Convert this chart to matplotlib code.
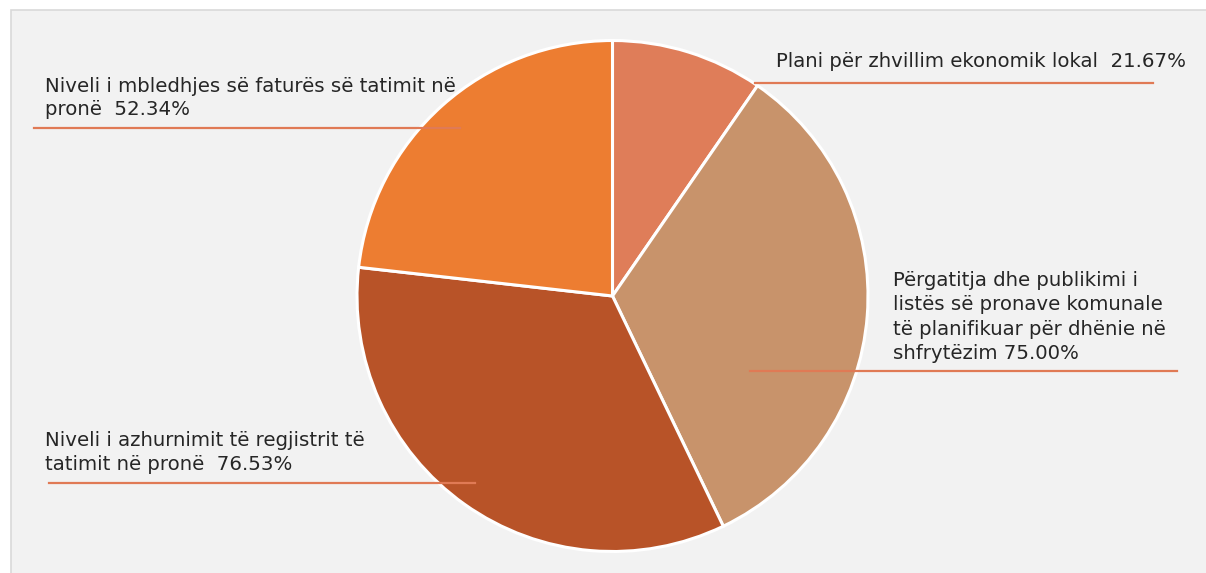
import matplotlib.pyplot as plt
from matplotlib.patches import Rectangle

# shares shown on each slice (clockwise from 12 o'clock)
labels = [
    "Plani për zhvillim ekonomik lokal",
    "Përgatitja dhe publikimi i\nlistës së pronave komunale\ntë planifikuar për dhënie në\nshfrytëzim",
    "Niveli i azhurnimit të regjistrit të\ntatimit në pronë ",
    "Niveli i mbledhjes së faturës së tatimit në\npronë ",
]
values = [21.67, 75.00, 76.53, 52.34]
colors = ["#DF7D59", "#C8936B", "#B85328", "#ED7D31"]

W, H = 1206, 573
fig = plt.figure(figsize=(W / 100, H / 100), dpi=100, facecolor="white")
ax = fig.add_axes([0, 0, 1, 1])

# plot area background
ax.add_patch(Rectangle((10.5, -5), W, H - 4.5, facecolor="#F2F2F2",
                       edgecolor="#D9D9D9", linewidth=1.2, zorder=0))

ax.pie(values, colors=colors, startangle=90, counterclock=False,
       center=(612.5, H - 296), radius=255.5,
       wedgeprops=dict(edgecolor="white", linewidth=2.2), frame=True)

ax.set_xlim(0, W)
ax.set_ylim(0, H)
ax.set_aspect("auto")
ax.axis("off")

line_col = "#E07A55"
txt_col = "#262626"
fs = 14.2

# (text x, text top y, line spacing, line x0, line x1, line y) in pixels from top-left
label_pos = [
    (776, 52, 1.3, 755, 1153, 83),
    (893, 271, 1.36, 750, 1177, 371),
    (45, 431, 1.36, 49, 475, 483),
    (45, 77, 1.26, 34, 460, 128),
]

for lab, val, (tx, ty, ls, x0, x1, ly) in zip(labels, values, label_pos):
    sep = " " if lab.endswith(" ") or "\n" in lab else "  "
    text = f"{lab}{sep}{val:.2f}%"
    ax.text(tx, H - ty, text, ha="left", va="top", fontsize=fs,
            color=txt_col, linespacing=ls, zorder=5)
    ax.plot([x0, x1], [H - ly, H - ly], color=line_col, lw=1.6, zorder=4)

fig.savefig("out.png", dpi=100, facecolor="white")
